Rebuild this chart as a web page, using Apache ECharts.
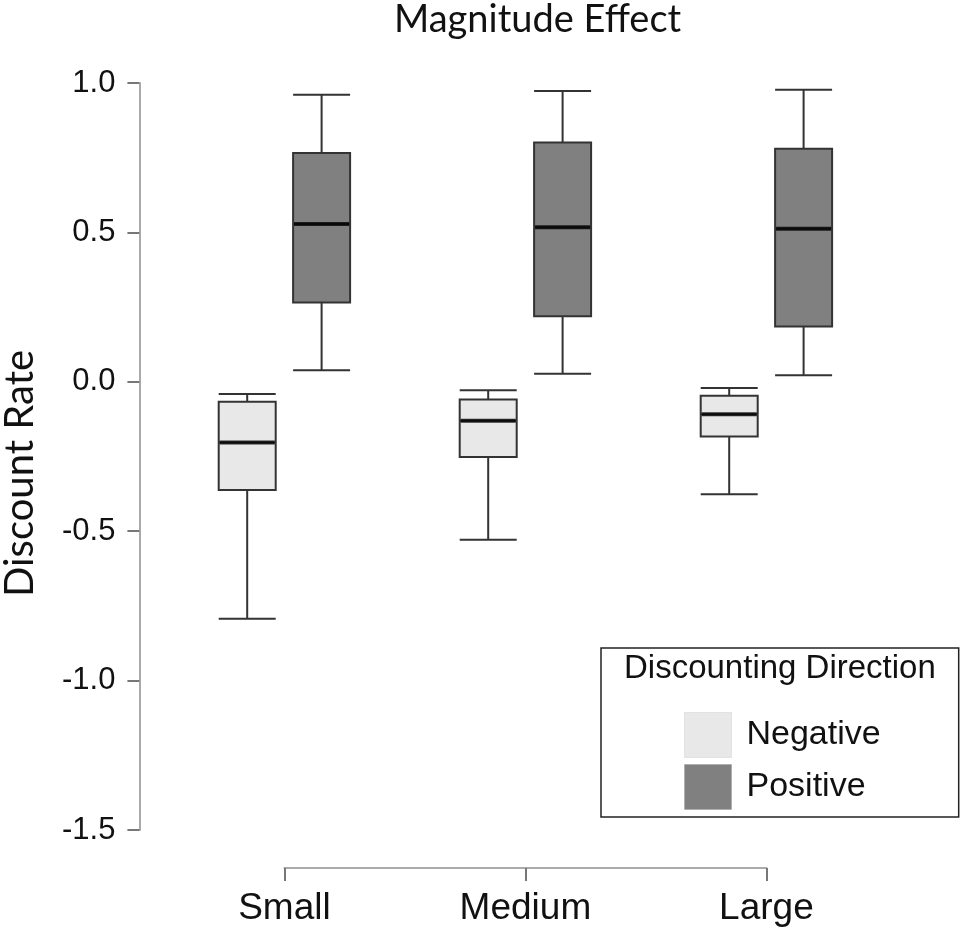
<!DOCTYPE html>
<html>
<head>
<meta charset="utf-8">
<style>
  html, body { margin: 0; padding: 0; background: #fff; }
  #chart-container { width: 962px; height: 930px; }
</style>
<script src="https://cdn.jsdelivr.net/npm/echarts@6/dist/echarts.min.js"></script>
</head>
<body>
<div id="chart-container"></div>
<script>
// data: [min, Q1, median, Q3, max]
var categories = ['Small', 'Medium', 'Large'];
var negativeBoxes = [
  [-0.793, -0.362, -0.203, -0.067, -0.041],
  [-0.529, -0.252, -0.130, -0.059, -0.028],
  [-0.376, -0.183, -0.109, -0.047, -0.021]
];
var positiveBoxes = [
  [0.039, 0.265, 0.528, 0.766, 0.961],
  [0.027, 0.219, 0.517, 0.801, 0.973],
  [0.022, 0.185, 0.512, 0.780, 0.977]
];
var yMin = -1.5, yMax = 1.0, yStep = 0.5;
var seriesNames = ['Negative', 'Positive'];

var negMedians = negativeBoxes.map(function (d) { return d[2]; });
var posMedians = positiveBoxes.map(function (d) { return d[2]; });

var dom = document.getElementById('chart-container');
var myChart = echarts.init(dom, null, { renderer: 'canvas' });

var gridTop = 83, gridBottom = 100;
function hiddenY(i) {
  return { type: 'value', gridIndex: i, min: yMin, max: yMax, interval: yStep, show: false, splitLine: { show: false } };
}
function hiddenX(i) {
  return { type: 'category', gridIndex: i, data: categories, boundaryGap: false, show: false };
}

var option = {
  animation: false,
  backgroundColor: '#fff',
  title: [
    {
      text: 'Magnitude Effect',
      left: 394, top: 1, padding: 0,
      textStyle: { fontFamily: 'Lato', fontSize: 38, fontWeight: 'normal', color: '#111' }
    },
    {
      text: 'Discounting Direction',
      left: 624, top: 652, padding: 0,
      textStyle: { fontFamily: 'Liberation Sans', fontSize: 33, fontWeight: 'normal', color: '#111' }
    }
  ],
  legend: {
    orient: 'vertical',
    left: 601, top: 648,
    padding: [64, 78, 7, 83],
    itemWidth: 47, itemHeight: 45, itemGap: 6,
    icon: 'rect',
    borderColor: '#222', borderWidth: 1.5,
    data: [
      { name: seriesNames[0], itemStyle: { color: '#e8e8e8', borderColor: '#d0d0d0', borderWidth: 1, borderType: 'dotted' } },
      { name: seriesNames[1], itemStyle: { color: '#808080', borderColor: '#a0a0a0', borderWidth: 1, borderType: 'dotted' } }
    ],
    textStyle: { fontFamily: 'Liberation Sans', fontSize: 34, color: '#111', padding: [0, 0, 0, 10] },
    selectedMode: false
  },
  grid: [
    { left: 284.4, right: 195.6, top: gridTop, bottom: gridBottom, outerBoundsMode: 'none' },   // visible axes
    { left: 247.2, right: 232.8, top: gridTop, bottom: gridBottom, outerBoundsMode: 'none' },   // negative boxes
    { left: 321.6, right: 158.4, top: gridTop, bottom: gridBottom, outerBoundsMode: 'none' }    // positive boxes
  ],
  xAxis: [
    {
      type: 'category', gridIndex: 0, data: categories, boundaryGap: false,
      offset: 38,
      axisLine: { onZero: false, lineStyle: { color: '#aaa', width: 2 } },
      axisTick: { length: 13, lineStyle: { color: '#777', width: 2 } },
      axisLabel: { margin: 22, fontFamily: 'Liberation Sans', fontSize: 37, color: '#111' }
    },
    hiddenX(1), hiddenX(2)
  ],
  yAxis: [
    {
      type: 'value', gridIndex: 0, min: yMin, max: yMax, interval: yStep,
      offset: 145,
      name: 'Discount Rate', nameLocation: 'middle', nameRotate: 90, nameGap: 99,
      nameTextStyle: { fontFamily: 'Lato', fontSize: 40, color: '#111', padding: [0, 34, 0, 0] },
      axisLine: { show: true, onZero: false, lineStyle: { color: '#aaa', width: 2 } },
      axisTick: { show: true, length: 12, lineStyle: { color: '#777', width: 2 } },
      axisLabel: {
        margin: 24, fontFamily: 'Liberation Sans', fontSize: 31, color: '#111',
        formatter: function (v) { return v.toFixed(1); }
      },
      splitLine: { show: false }
    },
    hiddenY(1), hiddenY(2)
  ],
  series: [
    {
      name: seriesNames[0], type: 'boxplot', xAxisIndex: 1, yAxisIndex: 1,
      boxWidth: [57, 57],
      itemStyle: { color: '#e8e8e8', borderColor: '#333', borderWidth: 2 },
      emphasis: { disabled: true },
      data: negativeBoxes
    },
    {
      name: seriesNames[1], type: 'boxplot', xAxisIndex: 2, yAxisIndex: 2,
      boxWidth: [57, 57],
      itemStyle: { color: '#808080', borderColor: '#333', borderWidth: 2 },
      emphasis: { disabled: true },
      data: positiveBoxes
    },
    // thick black median bars on top of the boxes
    {
      type: 'scatter', xAxisIndex: 1, yAxisIndex: 1,
      symbol: 'rect', symbolSize: [55, 4],
      itemStyle: { color: '#000' }, silent: true,
      data: negMedians
    },
    {
      type: 'scatter', xAxisIndex: 2, yAxisIndex: 2,
      symbol: 'rect', symbolSize: [55, 4],
      itemStyle: { color: '#000' }, silent: true,
      data: posMedians
    }
  ]
};

myChart.setOption(option);
window.addEventListener('resize', myChart.resize);
</script>
</body>
</html>
